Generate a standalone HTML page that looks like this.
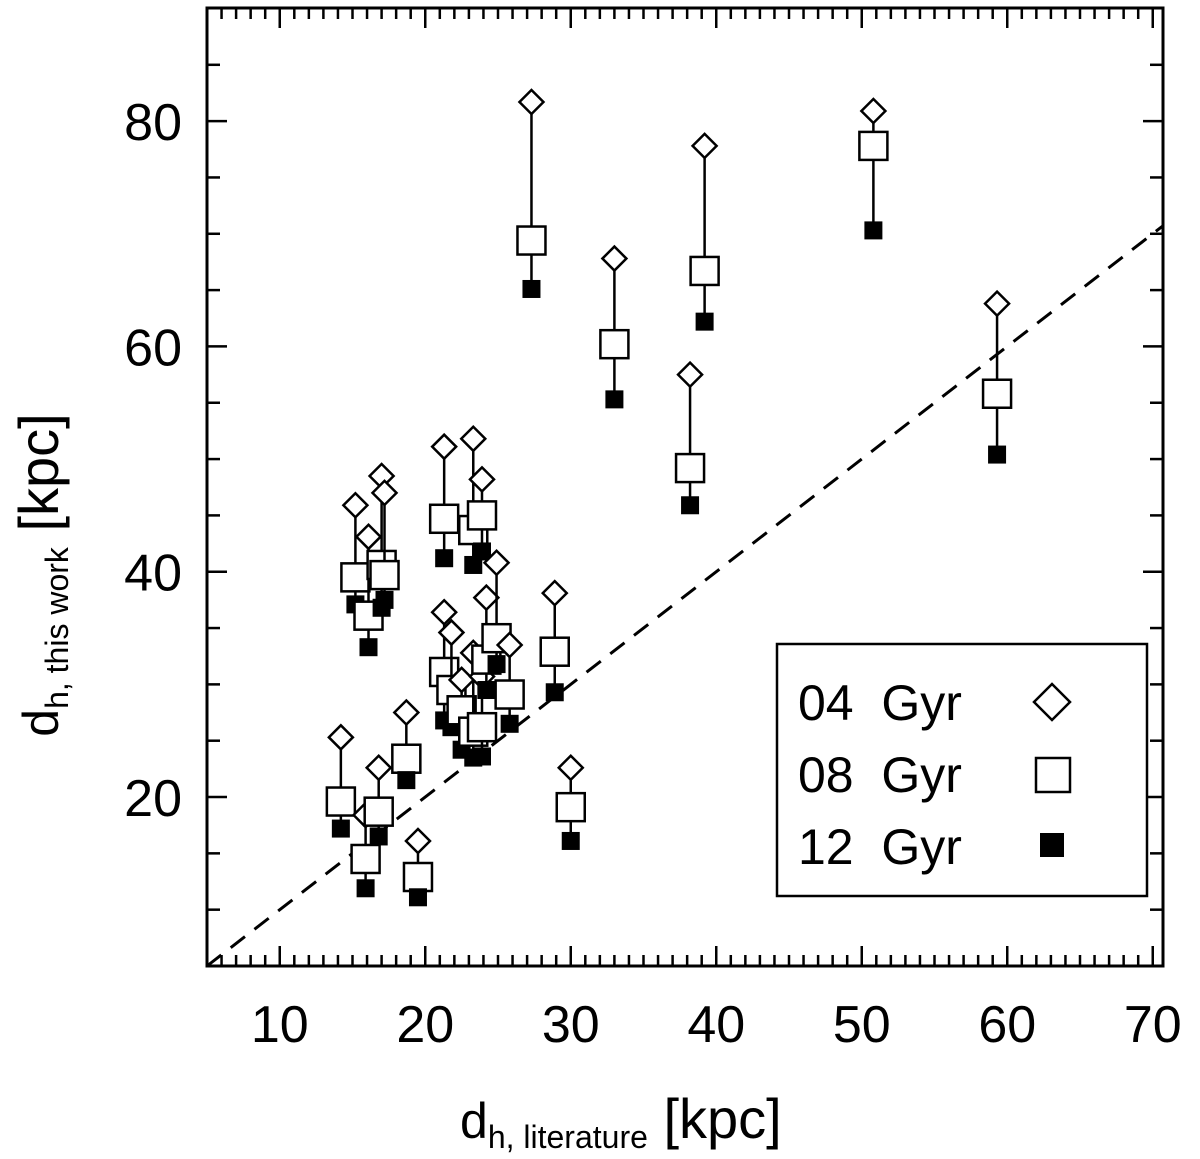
<!DOCTYPE html>
<html><head><meta charset="utf-8"><style>
html,body{margin:0;padding:0;background:#fff;}
svg text{font-family:"Liberation Sans","DejaVu Sans",sans-serif;fill:#000;}
</style></head><body>
<svg id="chart" width="1200" height="1154" xmlns="http://www.w3.org/2000/svg">
<g id="ticks"></g>
<g id="marks"></g>
<rect x="207" y="8" width="956" height="958" fill="none" stroke="#000" stroke-width="3"/>
<text x="460" y="1138" font-size="50">d<tspan font-size="32" dy="10">h, literature</tspan><tspan dy="-10" font-size="56"> [kpc]</tspan></text>
<text transform="translate(58,575) rotate(-90)" x="0" y="0" font-size="50" text-anchor="middle">d<tspan font-size="32" dy="10">h, this work</tspan><tspan dy="-10" font-size="56"> [kpc]</tspan></text>
<g>
<rect x="777" y="644" width="370" height="252" fill="#fff" stroke="#000" stroke-width="2.5"/>
<text x="798" y="720" font-size="50" xml:space="preserve">04  Gyr</text>
<text x="798" y="792" font-size="50" xml:space="preserve">08  Gyr</text>
<text x="798" y="864" font-size="50" xml:space="preserve">12  Gyr</text>
<polygon points="1052,684 1070,702 1052,720 1034,702" fill="none" stroke="#000" stroke-width="2.5"/>
<rect x="1036" y="758" width="34" height="34" fill="none" stroke="#000" stroke-width="2.5"/>
<rect x="1040" y="833" width="24" height="24" fill="#000"/>
</g>
</svg>
<script>
const xLit = [27.3,33.0,39.2,38.2,50.8,59.3,28.9,30.0,14.2,15.9,16.8,18.7,19.5,15.2,16.1,17.0,17.2,21.3,23.3,23.9,21.3,21.8,22.5,23.3,23.9,24.2,24.9,25.8];
const y04 = [81.7,67.8,77.8,57.5,80.9,63.8,38.1,22.6,25.3,18.4,22.6,27.5,16.1,45.9,43.1,48.5,47.0,51.1,51.8,48.2,36.4,34.6,30.4,32.8,30.7,37.7,40.8,33.5];
const y08 = [69.4,60.2,66.7,49.2,77.8,55.8,32.9,19.1,19.6,14.5,18.7,23.4,12.9,39.5,36.1,40.6,39.7,44.7,43.7,45.0,31.1,29.5,27.7,25.8,26.2,32.2,34.1,29.1];
const y12 = [65.1,55.3,62.2,45.9,70.3,50.4,29.3,16.1,17.2,11.9,16.5,21.5,11.1,37.1,33.3,36.8,37.5,41.2,40.6,41.8,26.8,26.2,24.2,23.5,23.6,29.5,31.8,26.5];
const xTicks = [10,20,30,40,50,60,70];
const yTicks = [20,40,60,80];
const NS="http://www.w3.org/2000/svg";
const X0=207,X1=1163,Y0=966,Y1=8;
const xMin=5,xMax=5+956/14.55,yMin=5,yMax=5+958/11.265;
function sx(v){return X0+(v-xMin)/(xMax-xMin)*(X1-X0);}
function sy(v){return Y0-(v-yMin)/(yMax-yMin)*(Y0-Y1);}
function mk(tag,attrs,parent){const e=document.createElementNS(NS,tag);for(const k in attrs)e.setAttribute(k,attrs[k]);parent.appendChild(e);return e;}
const tg=document.getElementById('ticks'), mg=document.getElementById('marks');
for(let v=6;v<=70;v++){
  const L=(v%10===0)?20:11, x=sx(v);
  const t1=mk('line',{x1:x,x2:x,y1:Y0,y2:Y0-L,stroke:'#000','stroke-width':2.5},tg);
  
  
  const t2=mk('line',{x1:x,x2:x,y1:Y1,y2:Y1+L,stroke:'#000','stroke-width':2.5},tg);
  
  
}
for(let v=10;v<=85;v+=5){
  const L=(v%20===0)?20:13, y=sy(v);
  const t1=mk('line',{x1:X0,x2:X0+L,y1:y,y2:y,stroke:'#000','stroke-width':2.5},tg);
  
  
  const t2=mk('line',{x1:X1,x2:X1-L,y1:y,y2:y,stroke:'#000','stroke-width':2.5},tg);
  
  
}
xTicks.forEach(v=>{
  const t=mk('text',{x:sx(v),y:1042,'font-size':52,'text-anchor':'middle'},tg);
  t.textContent=v;
  
  
});
yTicks.forEach(v=>{
  const t=mk('text',{x:182,y:sy(v)+19,'font-size':52,'text-anchor':'end'},tg);
  t.textContent=v;
  
  
});
const dl=mk('line',{x1:sx(5),y1:sy(5),x2:sx(xMax),y2:sy(xMax),stroke:'#000','stroke-width':3,'stroke-dasharray':'18,12'},mg);


xLit.forEach((xv,i)=>{
  const x=sx(xv);
  const ln=mk('line',{x1:x,x2:x,y1:sy(y04[i]),y2:sy(y12[i]),stroke:'#000','stroke-width':2.5},mg);
  
  
  const yd=sy(y04[i]);
  const d=mk('polygon',{points:`${x},${yd-12} ${x+12},${yd} ${x},${yd+12} ${x-12},${yd}`,fill:'#fff',stroke:'#000','stroke-width':2.5},mg);
  
  
  const ys=sy(y08[i]);
  const s=mk('rect',{x:x-14,y:ys-14,width:28,height:28,fill:'#fff',stroke:'#000','stroke-width':2.5},mg);
  
  
  const yf=sy(y12[i]);
  const f=mk('rect',{x:x-9,y:yf-9,width:18,height:18,fill:'#000'},mg);
  
  
});
</script>
</body></html>
